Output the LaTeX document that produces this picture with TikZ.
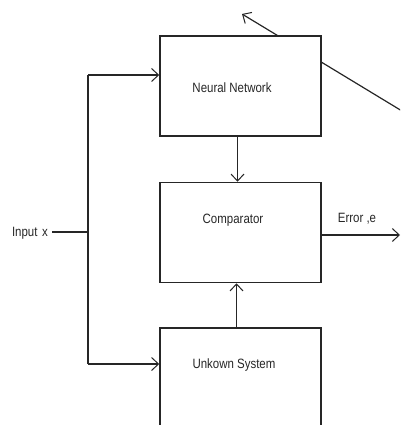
\documentclass[tikz,border=0pt]{standalone}
\usepackage{fontspec}
\setmainfont{Liberation Sans}
\newfontfamily\narrowsans[FakeStretch=0.85]{Liberation Sans}
\usetikzlibrary{arrows.meta,calc}
\begin{document}
\begin{tikzpicture}[x=1pt,y=-1pt,
  wire/.style={line width=1.2pt,black!85},
  arr/.style={wire,-{Straight Barb[length=7pt,width=13pt,line width=1pt]}},
  blockbox/.style={draw=black!85,line width=1.5pt,fill=white,minimum width=161pt,minimum height=100pt,inner sep=0pt},
  txt/.style={font=\narrowsans\fontsize{13.5pt}{15pt}\selectfont,inner sep=0pt,text=black!85}]
\useasboundingbox (0,0) rectangle (400,425);
\clip (0,0) rectangle (400,425);
% adaptation arrow (passes under the network box)
\coordinate (d1) at (402,111);
\coordinate (d2) at (242,14);
\draw[arr] (d1) -- (d2);
% blocks
\node[blockbox] (nn) at (240.5,86) {};
\node[blockbox] (cmp) at (240.5,232.5) {};
\node[blockbox] (unk) at (240.5,378) {};
\node[txt] (nnt) at (232,88) {Neural Network};
\node[txt] (cmpt) at (233,220) {Comparator};
\node[txt] (unkt) at (234,365) {Unkown System};
% input
\node[txt,anchor=east] (inp) at (48,233) {Input\,\,x};
\coordinate (j) at (88,232);
\coordinate (jt) at (88,75);
\coordinate (jb) at (88,364);
\draw[wire] (inp.east) ++(4,-1) coordinate (ie) -- (j);
\draw[wire] (jt) -- (jb);
\draw[arr] (jt) -- (jt -| nn.west);
\draw[arr] (jb) -- (jb -| unk.west);
% vertical connectors
\draw[arr] ($(nn.south)+(-3,0)$) coordinate (ns) -- (ns |- cmp.north);
\draw[arr] ($(unk.north)+(-4,0)$) coordinate (us) -- (us |- cmp.south);
% error output
\coordinate (eo) at (400,235);
\draw[arr] (cmp.east |- eo) -- (eo);
\node[txt] (err) at (357,219) {Error ,e};
\end{tikzpicture}
\end{document}
